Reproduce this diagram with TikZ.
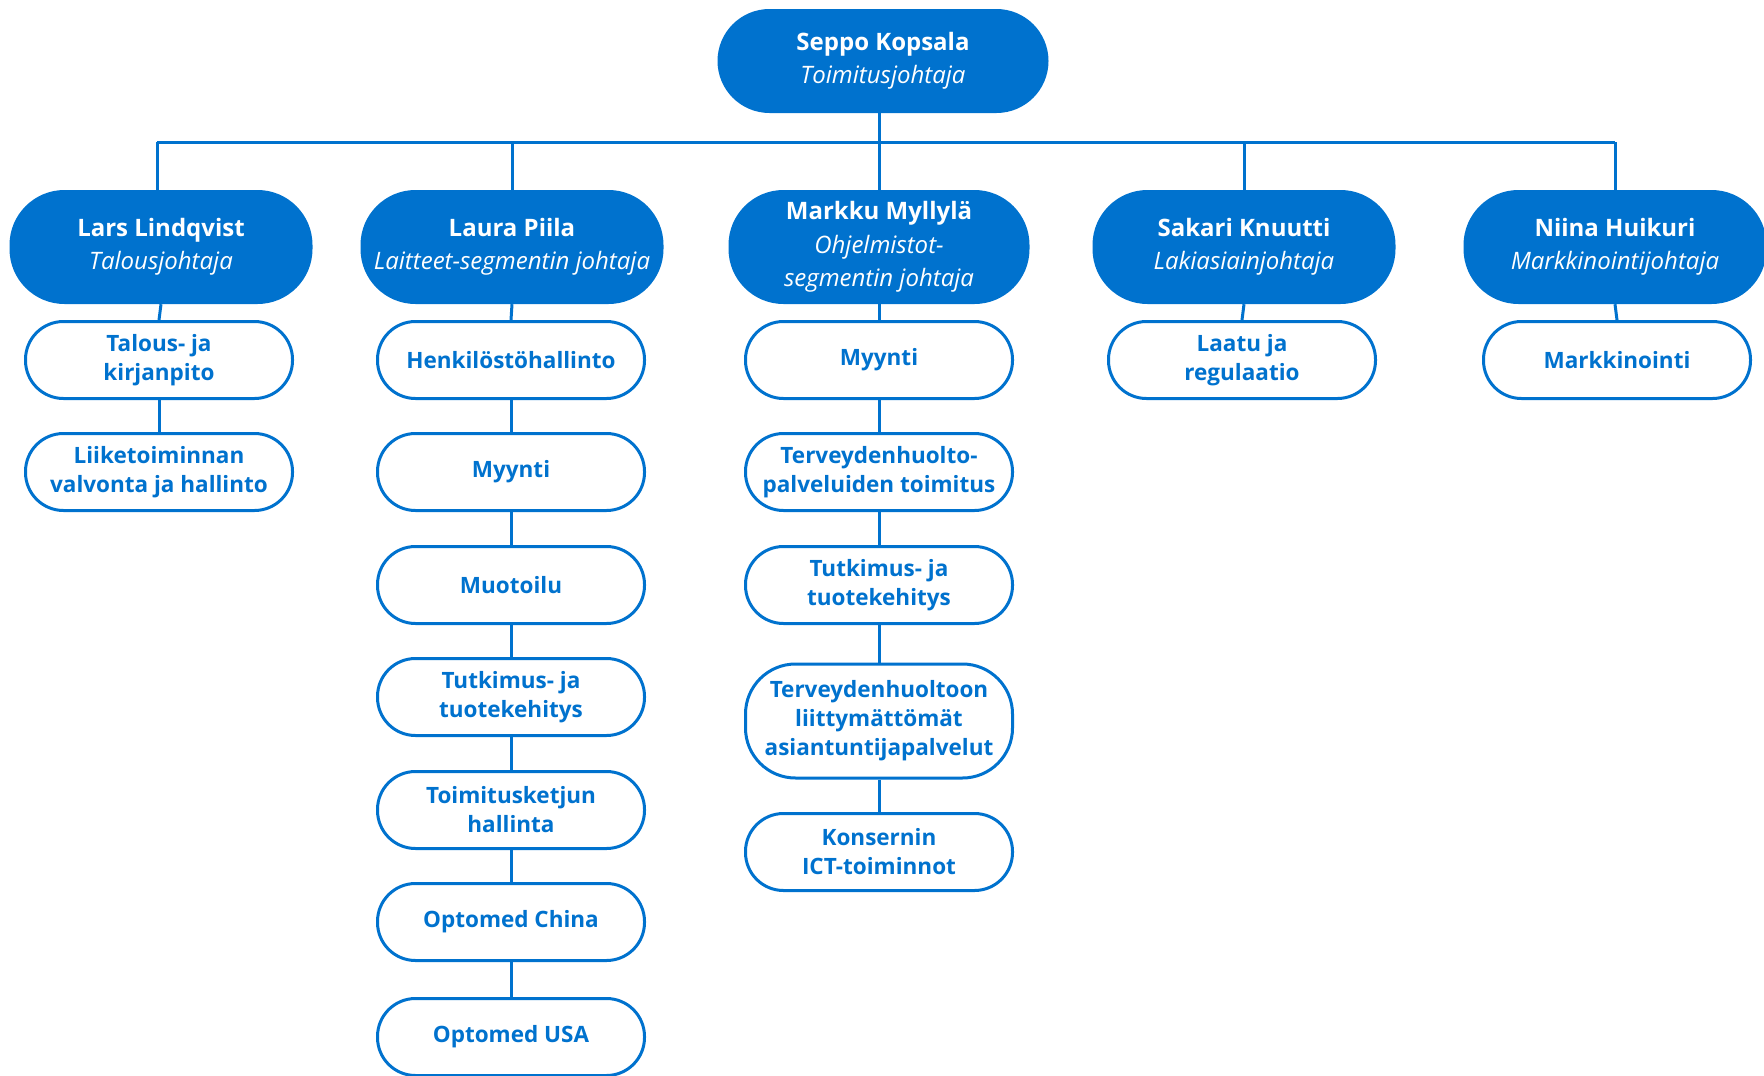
\documentclass[tikz,border=0pt]{standalone}
\usepackage{fontspec}
\setmainfont{Open Sans}
\definecolor{oblue}{RGB}{0,114,206}
\tikzset{
  headbox/.style={fill=oblue, draw=none, rounded corners=55pt, minimum width=303pt, minimum height=114pt, text=white, align=center, inner sep=2pt, font=\fontsize{24}{33.5}\selectfont},
  subbox/.style={draw=oblue, line width=3pt, fill=white, rounded corners=38pt, minimum width=267pt, minimum height=77pt, text=oblue, align=center, inner sep=2pt, font=\bfseries\fontsize{22.5}{29}\selectfont},
  conn/.style={draw=oblue, line width=3pt}
}
\begin{document}
\begin{tikzpicture}[x=1pt,y=-1pt]
\useasboundingbox (0,0) rectangle (1764,1076);
% top
\node[headbox, minimum width=331pt, minimum height=104pt, rounded corners=52pt] (top) at (883,61) {\textbf{Seppo Kopsala}\\\textit{Toimitusjohtaja}};
% heads
\node[headbox] (lars) at (161,247) {\textbf{Lars Lindqvist}\\\textit{Talousjohtaja}};
\node[headbox] (laura) at (512,247) {\textbf{Laura Piila}\\\textit{Laitteet-segmentin johtaja}};
\node[headbox, minimum width=301pt] (markku) at (879,247) {\textbf{Markku Myllylä}\\\textit{Ohjelmistot-}\\\textit{segmentin johtaja}};
\node[headbox] (sakari) at (1244,247) {\textbf{Sakari Knuutti}\\\textit{Lakiasiainjohtaja}};
\node[headbox] (niina) at (1615,247) {\textbf{Niina Huikuri}\\\textit{Markkinointijohtaja}};
% Lars column
\node[subbox] (l1) at (159,360) {Talous- ja\\kirjanpito};
\node[subbox] (l2) at (159,472) {Liiketoiminnan\\valvonta ja hallinto};
% Laura column
\node[subbox] (a1) at (511,360) {Henkilöstöhallinto};
\node[subbox] (a2) at (511,472) {Myynti};
\node[subbox] (a3) at (511,585) {Muotoilu};
\node[subbox] (a4) at (511,697) {Tutkimus- ja\\tuotekehitys};
\node[subbox] (a5) at (511,810) {Toimitusketjun\\hallinta};
\node[subbox] (a6) at (511,922) {Optomed China};
\node[subbox] (a7) at (511,1037) {Optomed USA};
% Markku column
\node[subbox] (m1) at (879,360) {Myynti};
\node[subbox] (m2) at (879,472) {Terveydenhuolto-\\palveluiden toimitus};
\node[subbox] (m3) at (879,585) {Tutkimus- ja\\tuotekehitys};
\node[subbox, minimum height=114pt, rounded corners=50pt] (m4) at (879,721) {Terveydenhuoltoon\\liittymättömät\\asiantuntijapalvelut};
\node[subbox] (m5) at (879,852) {Konsernin\\ICT-toiminnot};
% Sakari
\node[subbox] (s1) at (1242,360) {Laatu ja\\regulaatio};
% Niina
\node[subbox] (n1) at (1617,360) {Markkinointi};
% bus
\coordinate (bus) at (0,142);
\draw[conn] ([xshift=-4pt]lars.north |- bus) -- (niina.north |- bus);
\draw[conn] ([xshift=-4pt]top.south) -- ([xshift=-4pt]top.south |- bus);
\draw[conn] ([xshift=-4pt]lars.north |- bus) -- ([xshift=-4pt]lars.north);
\foreach \h in {laura,markku,sakari,niina}
  \draw[conn] (\h.north |- bus) -- (\h.north);
% vertical chains
\draw[conn] (lars.south) -- (l1.north);
\draw[conn] (l1.south) -- (l2.north);
\draw[conn] (laura.south) -- (a1.north);
\draw[conn] (a1.south) -- (a2.north);
\draw[conn] (a2.south) -- (a3.north);
\draw[conn] (a3.south) -- (a4.north);
\draw[conn] (a4.south) -- (a5.north);
\draw[conn] (a5.south) -- (a6.north);
\draw[conn] (a6.south) -- (a7.north);
\draw[conn] (markku.south) -- (m1.north);
\draw[conn] (m1.south) -- (m2.north);
\draw[conn] (m2.south) -- (m3.north);
\draw[conn] (m3.south) -- (m4.north);
\draw[conn] (m4.south) -- (m5.north);
\draw[conn] (sakari.south) -- (s1.north);
\draw[conn] (niina.south) -- (n1.north);
\end{tikzpicture}
\end{document}
